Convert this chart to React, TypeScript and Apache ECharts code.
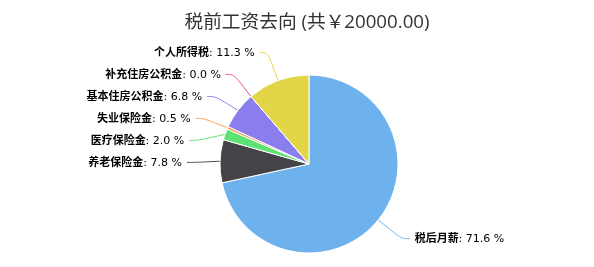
import React, { useEffect, useRef } from "react";
import * as echarts from "echarts";

const categories = ["税后月薪", "养老保险金", "医疗保险金", "失业保险金", "基本住房公积金", "补充住房公积金", "个人所得税"];
const values = [14320, 1560, 400, 100, 1360, 0, 2260];
const colors = ["#6db1ed", "#434348", "#5ce372", "#f7a35c", "#8a7ded", "#e8457f", "#e2d548"];
const total = 20000;

export default function App() {
  const ref = useRef<HTMLDivElement>(null);
  useEffect(() => {
    const chart = echarts.init(ref.current!, null, { renderer: "svg" });
    chart.setOption({
      animation: false,
      title: {
        text: "税前工资去向 (共￥20000.00)",
        left: 302,
        textAlign: "center",
        top: 6,
        textStyle: {
          fontSize: 18.7,
          fontWeight: "normal",
          color: "#333333",
          fontFamily: "'Open Sans', 'Noto Sans CJK SC', sans-serif",
        },
      },
      series: [
        {
          type: "pie",
          center: [309, 164],
          radius: [0, 89],
          startAngle: 90,
          clockwise: true,
          data: categories.map((c, i) => ({
            name: c,
            value: values[i],
            itemStyle: { color: colors[i] },
            labelLine: { lineStyle: { color: colors[i] } },
          })),
          itemStyle: { borderColor: "#ffffff", borderWidth: 1 },
          label: {
            show: true,
            formatter: (p: any) => `{b|${p.name}}: ${((p.value / total) * 100).toFixed(1)} %`,
            fontSize: 11,
            lineHeight: 20,
            color: "#000000",
            fontFamily: "'DejaVu Sans', 'Noto Sans CJK SC', sans-serif",
            rich: {
              b: {
                fontWeight: 600,
                fontSize: 11,
                lineHeight: 20,
                color: "#000000",
                fontFamily: "'DejaVu Sans', 'Noto Sans CJK SC', sans-serif",
              },
            },
          },
          labelLine: { show: true, length: 30, length2: 8, smooth: 0.4 },
          emphasis: { disabled: true },
        },
      ],
    });
    return () => chart.dispose();
  }, []);
  return <div ref={ref} style={{ position: "fixed", left: 0, top: 0, width: 594, height: 267 }} />;
}
